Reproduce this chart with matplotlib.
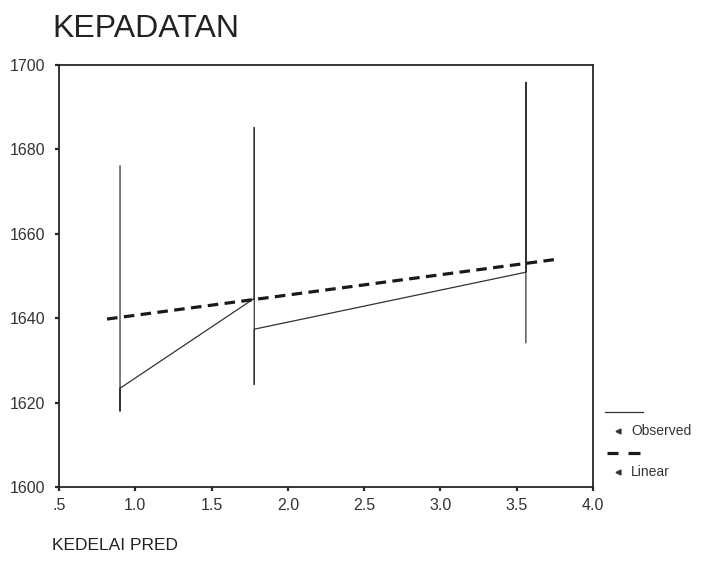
import matplotlib
matplotlib.use("Agg")
import matplotlib.pyplot as plt
from matplotlib.lines import Line2D

plt.rcParams['font.family'] = ['Liberation Sans', 'DejaVu Sans']

# ---- data ----
obs_x = [0.90, 0.90, 0.90, 1.78, 1.78, 1.78, 1.78, 3.56, 3.56, 3.56]
obs_y = [1676.1, 1617.9, 1623.4, 1644.7, 1685.3, 1624.2, 1637.4, 1650.9, 1696.0, 1634.2]
lin_x = [0.815, 3.77]
lin_y = [1639.8, 1654.0]
x_ticks = [0.5, 1.0, 1.5, 2.0, 2.5, 3.0, 3.5, 4.0]
x_tick_labels = ['.5', '1.0', '1.5', '2.0', '2.5', '3.0', '3.5', '4.0']
y_ticks = [1600, 1620, 1640, 1660, 1680, 1700]
title = 'KEPADATAN'
xlabel = 'KEDELAI PRED'
legend_labels = ['Observed', 'Linear']

W, H = 707, 567
fig = plt.figure(figsize=(W / 100, H / 100), dpi=100)
ax = fig.add_axes([59 / W, 1 - 487 / H, (593 - 59) / W, (487 - 65) / H])

ink = '#262626'
ax.plot(obs_x, obs_y, color='#333333', lw=0.9, solid_joinstyle='miter')
ax.plot(lin_x, lin_y, color='#1a1a1a', lw=2.3, dashes=(3.3, 2.0), dash_capstyle='butt')

ax.set_xlim(0.5, 4.0)
ax.set_ylim(1600, 1700)
ax.set_xticks(x_ticks)
ax.set_xticklabels(x_tick_labels)
ax.set_yticks(y_ticks)
for s in ax.spines.values():
    s.set_color(ink)
    s.set_linewidth(1.3)
ax.tick_params(axis='both', direction='out', length=3, width=1.6, color=ink,
               labelsize=11.5, labelcolor='#333333')
ax.tick_params(axis='y', pad=7)
ax.tick_params(axis='x', pad=5)

fig.text(52 / W, 1 - 29 / H, title, fontsize=23, color='#222222', ha='left', va='center')
fig.text(52 / W, 1 - 546 / H, xlabel, fontsize=12.5, color='#222222', ha='left', va='center')

# legend drawn at the right, outside the axes
def fx(px):
    return px / W

def fy(py):
    return 1 - py / H

fig.add_artist(Line2D([fx(605), fx(643)], [fy(412), fy(412)], transform=fig.transFigure,
                      color='#333333', lw=0.9))
for x0, x1 in ((607, 618), (628, 640)):
    fig.add_artist(Line2D([fx(x0), fx(x1)], [fy(453), fy(453)], transform=fig.transFigure,
                          color='#1a1a1a', lw=2.3, solid_capstyle='butt'))
for py in (431, 472):
    fig.add_artist(Line2D([fx(618)], [fy(py)], transform=fig.transFigure,
                          marker='<', markersize=3.5, color='#333333', lw=0))
fig.text(fx(631), fy(431), legend_labels[0], fontsize=10, color='#333333', ha='left', va='center')
fig.text(fx(631), fy(472), legend_labels[1], fontsize=10, color='#333333', ha='left', va='center')

fig.savefig('out.png', dpi=100, facecolor='white')
